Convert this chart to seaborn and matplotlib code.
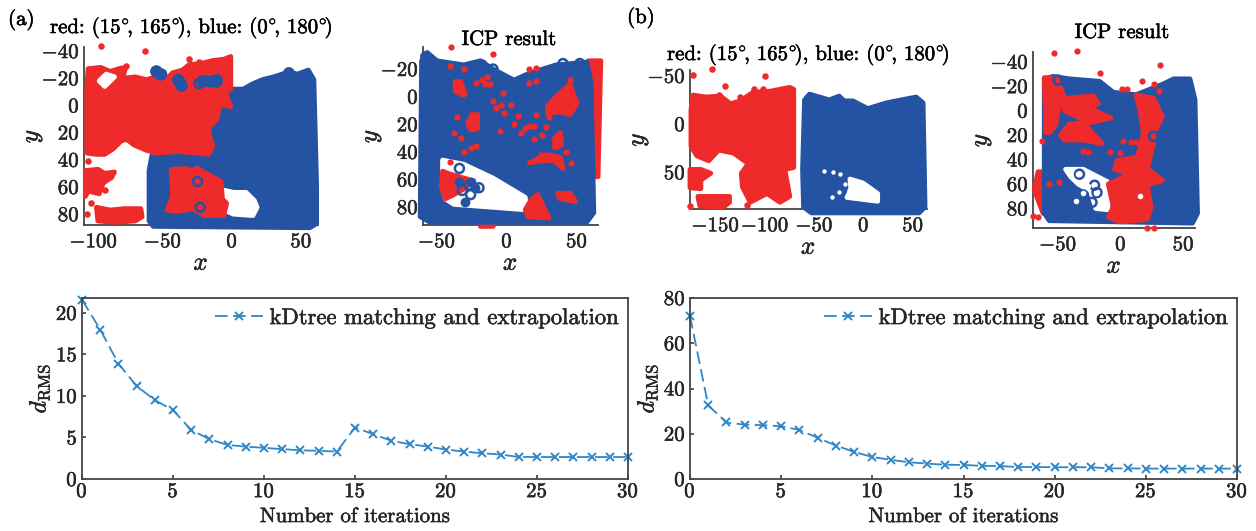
import matplotlib
matplotlib.use('Agg')
import matplotlib.pyplot as plt
import matplotlib.patheffects as pe
from matplotlib.text import Text
import seaborn as sns

sns.set_theme(style='white')
plt.rcParams['font.family'] = ['cmr10', 'DejaVu Serif']
plt.rcParams['mathtext.fontset'] = 'cm'
plt.rcParams['axes.formatter.use_mathtext'] = True

RED = '#ee2a2b'
BLUE = '#2553a4'
LINE = '#2f87c8'
AXIS = '#444444'
W, H = 1256, 531

# convergence curves
iters = list(range(31))
rms_a = [21.6, 18.0, 13.9, 11.2, 9.5, 8.3, 5.9, 4.8, 4.1, 3.9, 3.75, 3.6, 3.45, 3.4, 3.3, 6.2,
         5.4, 4.6, 4.2, 3.9, 3.55, 3.3, 3.1, 2.95, 2.65, 2.65, 2.65, 2.65, 2.65, 2.65, 2.65]
rms_b = [72, 32.5, 25, 24, 23.8, 23.3, 21.7, 18.2, 14.8, 12, 9.7, 8.5, 7.4, 6.8, 6.3, 6.2,
         5.8, 5.7, 5.3, 5.3, 5.2, 5.2, 5.2, 4.7, 4.7, 4.6, 4.6, 4.6, 4.6, 4.6, 4.6]

# The point clouds are far too dense to read point by point, so their solid
# bodies are outlines; single dots and rings are points.
a1_blue = [(-60, 48), (-58, 37), (-19, 20), (-2, -12), (8, -12), (15, -16), (22, -19), (30, -21), (36, -23),
           (41, -25), (47, -23), (55, -26), (59, -19), (60, 20), (61, 60), (61, 87), (56, 90), (-57, 89),
           (-60, 85)]
a1_hole = [(-8, 62), (1, 64), (10, 64), (16, 70), (18, 75), (15, 81), (1, 80), (-8, 76)]
a1_red = [
    [(-105, -13), (-104, -27), (-95, -28), (-88, -25), (-82, -27), (-77, -28), (-79, -20), (-70, -21), (-62, -19),
     (-55, -21), (-47, -20), (-43, -24), (-36, -26), (-31, -30), (-22, -31), (-14, -33), (-6, -34), (-1, -36),
     (-1, -12), (-5, -9), (-1, 1), (-9, -1), (-11, 10), (-16, 15), (-17, 20), (-14, 30), (-17, 36), (-26, 35),
     (-40, 34), (-55, 35), (-62, 33), (-71, 29), (-76, 25), (-80, 26), (-86, 32), (-92, 36), (-98, 36), (-105, 35)],
    [(-106, 48), (-97, 47), (-92, 50), (-85, 49), (-87, 53), (-93, 57), (-96, 65), (-104, 63), (-106, 67)],
    [(-98, 75), (-88, 77), (-78, 76), (-66, 76), (-65, 82), (-70, 85), (-85, 86), (-97, 85)],
    [(-44, 47), (-26, 46), (-8, 56), (-7, 69), (-4, 72), (-6, 81), (-20, 81), (-28, 76), (-40, 78),
     (-47, 77), (-43, 67)],
]
a1_notch = [(-96, -18), (-91, -23), (-85, -21), (-92, -14)]
a1_dots_x = [-95, -63, -77, -31, -24, -104, -102, -98, -92, -105]
a1_dots_y = [-44, -40, -29, -34, -32, 41, 72, 60, 62, 80]
a1_rings_x = [-55, -39, -19, -11, -25, -23, -51, -37, -24, 41]
a1_rings_y = [-25, -19, -18, -19, 56, 75, -23, -16, -16, -24]
a1_fill_x = [-55, -52, -39, -37, -22, -16, -12, -38, -30]
a1_fill_y = [-25, -23, -19, -15, -18, -18, -18, 40, 41]

a2_red_under = [[(58, -26), (67, -26), (65, 58), (62, 58), (60, -10)],
                [(-20, 88), (-12, 85), (-6, 87), (-10, 94), (-19, 94)]]
a2_blue = [(-61, -26), (-57, -32), (-50, -26), (-31, -23), (-19, -26), (-10, -20), (5, -12), (16, -17),
           (35, -23), (57, -25), (60, -10), (62, 84), (57, 91), (-55, 91), (-62, 87)]
a2_hole = [(-46, 46), (-31, 49), (-10, 59), (13, 73), (14, 82), (-38, 78), (-44, 74), (-46, 67)]
a2_red = [
    [(-46, 54), (-41, 56), (-24, 61), (-31, 67), (-38, 71), (-44, 74), (-47, 65)],
    [(29, 7), (35, 0), (45, -9), (50, 5), (45, 13), (38, 11), (29, 12)],
    [(16, 48), (28, 42), (38, 44), (40, 52), (33, 46), (21, 47)],
    [(17, 75), (22, 71), (28, 84), (30, 88), (15, 87), (13, 82)],
    [(36, 70), (45, 70), (49, 76), (38, 74)],
    [(-25, 13), (-21, 13), (-21, 23), (-26, 24), (-28, 19)],
    [(34, 30), (38, 26), (39, 35), (34, 37)],
    [(-37, -11), (-33, -11), (-30, -2), (-31, -1), (-37, -4)],
]
a2_dots_x = [-40, -10, -41, -36, -5, 16, 21, -22, -4, 3, -26, -31, 19, 35, 13, 16, 21, 45, -38, 19, -16,
             -3, -10, -41, -31, 21, 16, -22, -18, 8, 25, -14, -12, 30, 28, 10, 5, -8, -2, -33, 42, 46, 24]
a2_dots_y = [-36, -31, 47, 15, 25, 21, 13, -10, 6, 6, 37, 40, 21, 36, 23, -10, -11, -12, 26, 31, -9,
             -3, 3, -22, -20, -21, -20, 36, -12, 14, 28, -14, -9, 15, 22, 26, 20, 8, 12, 30, 40, 48, 42]
a2_rings_x = [-58, -18, -10, 40, -34, -26, -20, -27, -32, -14, 52]
a2_rings_y = [-29, -23, -20, -24, 52, 71, 66, 64, 68, 88, -24]
a2_fill_x = [-34, -26, -30, -23, -56, -19]
a2_fill_y = [62, 62, 76, 66, -26, -23]

b1_red = [
    [(-173, -30), (-160, -28), (-145, -29), (-135, -21), (-125, -24), (-112, -33), (-95, -34), (-75, -38),
     (-71, -36), (-71, 45), (-80, 47), (-75, 75), (-85, 81), (-98, 72), (-115, 81), (-123, 65), (-124, 51),
     (-117, 41), (-132, 30), (-147, 27), (-157, 38), (-169, 33), (-175, 23), (-175, -15)],
    [(-176, 47), (-165, 47), (-155, 51), (-165, 58), (-165, 67), (-176, 66)],
    [(-168, 75), (-136, 75), (-136, 81), (-142, 86), (-166, 85)],
]
b1_dots_x = [-173, -154, -141, -111, -100, -102, -125, -147, -176, -118]
b1_dots_y = [-51, -57, -39, -36, -50, -36, -28, -30, 85, 84]
b1_blue = [(-60, -25), (-55, -31), (-45, -28), (-35, -25), (-25, -29), (-20, -24), (-11, -24), (4, -16), (23, -22),
           (38, -25), (53, -28), (60, -22), (61, 30), (62, 86), (56, 92), (-53, 92), (-61, 86), (-62, 47)]
b1_hole = [(-14, 57), (-1, 61), (14, 72), (14, 80), (-17, 76), (-13, 68)]
b1_white_x = [-40, -31, -24, -19, -25, -32, -15]
b1_white_y = [49, 50, 52, 62, 70, 76, 68]

b2_red_under = [[(-66, 50), (-59, 50), (-61, 62), (-62, 84), (-66, 73), (-69, 65)]]
b2_blue = [(-61, -26), (-54, -28), (-41, -26), (-17, -24), (-6, -15), (12, -13), (34, -22), (42, -26),
           (55, -26), (59, -9), (61, 84), (57, 92), (-57, 90), (-61, 84)]
b2_hole = [(-44, 48), (-30, 48), (-11, 58), (-9, 73), (-11, 81), (-20, 80), (-24, 66), (-34, 60), (-40, 54)]
b2_red = [
    [(-61, -27), (-51, -26), (-45, -11), (-49, -5), (-52, 12), (-57, 18), (-60, 18), (-60, 5)],
    [(-45, -10), (-22, -12), (-18, -6), (-25, -2), (-8, 6), (-25, 10), (-41, 2), (-45, 0)],
    [(-41, 11), (-30, 10), (-22, 19), (-15, 27), (-30, 24), (-45, 24), (-48, 20)],
    [(12, -13), (26, -10), (33, 5), (26, 19), (26, 27), (21, 47), (33, 57), (21, 61), (24, 79), (21, 89),
     (-1, 91), (-10, 87), (-6, 79), (-10, 60), (7, 52), (-5, 48), (-3, 41), (13, 38), (18, 19), (15, -1)],
]
b2_dots_x = [-53, -35, 31, -17, 17, 1, 5, 26, 30, -70, -66, 21, 26, -49, -57, -63, 2, 8, 12, -1, -9, -30, -26]
b2_dots_y = [-47, -49, -37, -31, -24, -18, -18, -22, -16, 86, 87, 96, 96, 58, 60, 25, 25, 26, 26, 35, 34, 33, 34]
b2_rings_x = [-33, -19, -23, -21, -30, 26, -50]
b2_rings_y = [52, 67, 75, 61, 69, 21, -25]
b2_white_x = [15, -30, -36, -26, -34, -20]
b2_white_y = [70, 67, 74, 62, 52, 67]


def add_axes(left, top, right, bottom):
    return fig.add_axes([left / W, 1 - bottom / H, (right - left) / W, (bottom - top) / H])


def blob(ax, points, color):
    xs, ys = zip(*points)
    ax.fill(xs, ys, facecolor=color, edgecolor=color, lw=3.5, joinstyle='round', clip_on=False)


def dots(ax, xs, ys, color, size=22):
    sns.scatterplot(x=xs, y=ys, ax=ax, color=color, s=size, linewidth=0, clip_on=False, legend=False)


def rings(ax, xs, ys):
    sns.scatterplot(x=xs, y=ys, ax=ax, s=42, facecolors='none', edgecolor=BLUE, linewidth=1.8,
                    clip_on=False, legend=False)


def cloud_axes(box, xlim, ylim, xticks, yticks):
    ax = add_axes(*box)
    ax.set_xlim(xlim)
    ax.set_ylim(ylim)
    ax.set_xticks(xticks)
    ax.set_yticks(yticks)
    ax.tick_params(labelsize=15, pad=6, length=0)
    ax.tick_params(axis='y', pad=3)
    ax.set_xlabel('$x$', fontsize=18, labelpad=1)
    ax.set_ylabel('$y$', fontsize=18, labelpad=-2)
    for side in ['top', 'right']:
        ax.spines[side].set_visible(False)
    for side in ['left', 'bottom']:
        ax.spines[side].set_color(AXIS)
        ax.spines[side].set_linewidth(1.3)
        ax.spines[side].set_zorder(0.5)
    return ax


fig = plt.figure(figsize=(W / 100, H / 100), dpi=100)

# (a) before registration
ax = cloud_axes((84, 47, 318, 225), (-107, 62), (88, -43), [-100, -50, 0, 50], [-40, -20, 0, 20, 40, 60, 80])
blob(ax, a1_blue, BLUE)
blob(ax, a1_hole, 'white')
for poly in a1_red:
    blob(ax, poly, RED)
blob(ax, a1_notch, 'white')
dots(ax, a1_dots_x, a1_dots_y, RED)
dots(ax, a1_fill_x, a1_fill_y, BLUE, 80)
rings(ax, a1_rings_x, a1_rings_y)

# (a) ICP result
ax = cloud_axes((423, 47, 598, 225), (-60, 65), (93, -36), [-50, 0, 50], [-20, 0, 20, 40, 60, 80])
for poly in a2_red_under:
    blob(ax, poly, RED)
blob(ax, a2_blue, BLUE)
blob(ax, a2_hole, 'white')
for poly in a2_red:
    blob(ax, poly, RED)
dots(ax, a2_dots_x, a2_dots_y, RED, 20)
dots(ax, a2_fill_x, a2_fill_y, BLUE, 50)
rings(ax, a2_rings_x, a2_rings_y)

# (b) before registration
ax = cloud_axes((690, 70, 927, 209), (-176, 64), (88, -56), [-150, -100, -50, 0, 50], [-50, 0, 50])
for poly in b1_red:
    blob(ax, poly, RED)
dots(ax, b1_dots_x, b1_dots_y, RED)
blob(ax, b1_blue, BLUE)
blob(ax, b1_hole, 'white')
dots(ax, b1_white_x, b1_white_y, 'white', 10)

# (b) ICP result
ax = cloud_axes((1033, 52, 1195, 228), (-70, 59), (96, -48), [-50, 0, 50], [-40, -20, 0, 20, 40, 60, 80])
for poly in b2_red_under:
    blob(ax, poly, RED)
blob(ax, b2_blue, BLUE)
blob(ax, b2_hole, 'white')
for poly in b2_red:
    blob(ax, poly, RED)
dots(ax, b2_dots_x, b2_dots_y, RED, 20)
rings(ax, b2_rings_x, b2_rings_y)
dots(ax, b2_white_x, b2_white_y, 'white', 16)

# convergence curves
panels = [((82, 298, 628, 479), rms_a, (0, 21.8), [0, 5, 10, 15, 20]),
          ((690, 298, 1237, 479), rms_b, (0, 80), [0, 20, 40, 60, 80])]
for box, rms, ylim, yticks in panels:
    ax = add_axes(*box)
    sns.lineplot(x=iters, y=rms, ax=ax, color=LINE, marker='x', markersize=6, markeredgewidth=1.4,
                 markeredgecolor=LINE, linestyle=(0, (7, 3)), linewidth=1.3, clip_on=False,
                 label='kDtree matching and extrapolation')
    ax.set_xlim(0, 30)
    ax.set_ylim(ylim)
    ax.set_xticks([0, 5, 10, 15, 20, 25, 30])
    ax.set_yticks(yticks)
    ax.tick_params(labelsize=15, pad=3, length=3, direction='in', color=AXIS,
                   bottom=True, left=True)
    ax.set_xlabel('Number of iterations', fontsize=15, labelpad=5)
    ax.set_ylabel(r'$d_{\mathrm{RMS}}$', fontsize=17, labelpad=3)
    for spine in ax.spines.values():
        spine.set_color(AXIS)
        spine.set_linewidth(1.3)
    ax.legend(loc='upper right', frameon=False, fontsize=16.3, handlelength=2.1, handletextpad=0.3,
              borderaxespad=0.05)

# titles and panel letters
title = r'red: (15$^{\circ}\!$, 165$^{\circ}\!$), blue: (0$^{\circ}\!$, 180$^{\circ}\!$)'
fig.text(50 / W, 1 - 28 / H, title, fontsize=15, va='center', color='black')
fig.text(667 / W, 1 - 55 / H, title, fontsize=15, va='center', color='black')
fig.text(509 / W, 1 - 40 / H, 'ICP result', fontsize=15, ha='center', va='center', color='black')
fig.text(1122 / W, 1 - 33 / H, 'ICP result', fontsize=15, ha='center', va='center', color='black')
fig.text(8 / W, 1 - 20 / H, '(a)', fontsize=15, va='center', color='black')
fig.text(627 / W, 1 - 18 / H, '(b)', fontsize=15, va='center', color='black')

# the scanned labels are heavier than cmr10
for txt in fig.findobj(Text):
    txt.set_path_effects([pe.withStroke(linewidth=0.4, foreground=txt.get_color())])

fig.savefig('out.png', dpi=100)
